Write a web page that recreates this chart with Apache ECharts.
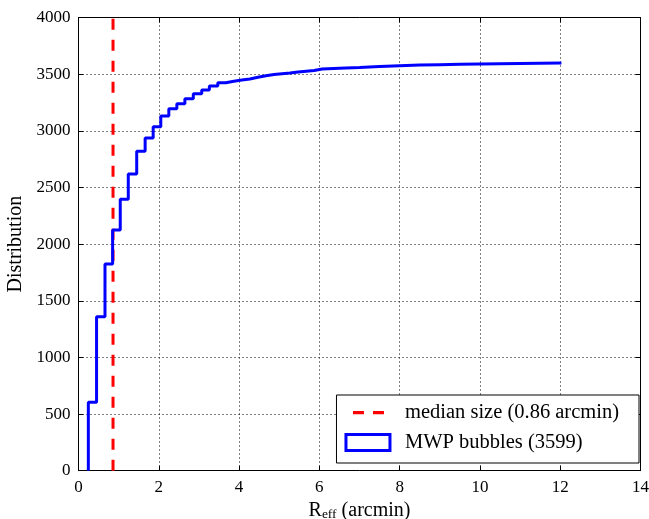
<!DOCTYPE html>
<html>
<head>
<meta charset="utf-8">
<script src="https://cdn.jsdelivr.net/npm/echarts@6/dist/echarts.min.js"></script>
<style>
    html, body { margin: 0; padding: 0; background: #fff; }
    #chart { width: 649px; height: 519px; }
</style>
</head>
<body>
<div id="chart"></div>
<script>
    // bin left edges (arcmin) and cumulative count after each edge
    var binEdges = [0.245, 0.45, 0.66, 0.85, 1.04, 1.24, 1.45, 1.66, 1.86, 2.05,
        2.25, 2.45, 2.65, 2.86, 3.07, 3.26, 3.47, 3.67, 3.87, 4.07,
        4.27, 4.47, 4.67, 4.87, 5.07, 5.27, 5.47, 5.67, 5.87, 6.07,
        6.5, 7.0, 7.5, 8.0, 8.5, 9.0, 9.5, 10.0, 10.5, 11.0, 11.5, 12.03];
    var binCounts = [604, 1359, 1824, 2124, 2395, 2619, 2819, 2936, 3036, 3131,
        3195, 3239, 3283, 3327, 3360, 3395, 3425, 3437, 3448, 3458,
        3472, 3485, 3496, 3503, 3510, 3518, 3525, 3532, 3545, 3553,
        3558, 3567, 3574, 3580, 3584, 3587, 3590, 3592, 3594, 3596, 3598, 3599];
    var medianSize = 0.86;
    var xTicks = { min: 0, max: 14, interval: 2 };
    var yTicks = { min: 0, max: 4000, interval: 500 };

    var font = 'Liberation Serif';

    var stepData = [[binEdges[0], 0]];
    for (var i = 0; i < binEdges.length; i++) {
        stepData.push([binEdges[i], binCounts[i]]);
    }

    function frameAxis(pos, ticks, extra) {
        var ax = {
            type: 'value',
            position: pos,
            min: ticks.min,
            max: ticks.max,
            interval: ticks.interval,
            axisLine: { show: true, onZero: false, lineStyle: { color: '#000', width: 1 } },
            axisTick: { show: true, inside: true, length: 5, lineStyle: { color: '#000', width: 1 } },
            axisLabel: { show: false },
            splitLine: { show: false }
        };
        return Object.assign(ax, extra || {});
    }

    var myChart = echarts.init(document.getElementById('chart'));
    var option = {
        animation: false,
        backgroundColor: '#fff',
        grid: { left: 78.5, right: 8.5, top: 17.5, bottom: 48.3, containLabel: false, outerBoundsMode: 'none' },
        legend: {
            orient: 'vertical',
            right: 10,
            top: 395,
            padding: [7, 20, 10, 8],
            itemWidth: 44,
            itemHeight: 16,
            itemGap: 9,
            backgroundColor: '#fff',
            borderColor: '#000',
            borderWidth: 1,
            borderRadius: 0,
            textStyle: { fontFamily: font, fontSize: 20.5, lineHeight: 20, color: '#000', padding: [0, 0, 0, 10] },
            data: [
                {
                    name: 'median size (0.86 arcmin)',
                    icon: 'path://M0,0 M7,6.5h11v3.2h-11z M27,6.5h11v3.2h-11z M44,16',
                    itemStyle: { color: '#ff0000', borderWidth: 0 }
                },
                {
                    name: 'MWP bubbles (3599)',
                    icon: 'rect',
                    itemStyle: { color: '#fff', borderColor: '#0000ff', borderWidth: 3 }
                }
            ]
        },
        xAxis: [
            frameAxis('bottom', xTicks, {
                axisLabel: { show: true, color: '#000', fontFamily: font, fontSize: 17, margin: 8 },
                splitLine: { show: true, lineStyle: { color: '#000', width: 1, type: [1, 3] } },
                name: '{r|R}{s|eff}{r| (arcmin)}',
                nameLocation: 'middle',
                nameGap: 24.5,
                nameTextStyle: {
                    color: '#000',
                    rich: {
                        r: { fontFamily: font, fontSize: 20, lineHeight: 22, color: '#000' },
                        s: { fontFamily: font, fontSize: 13.5, color: '#000', padding: [8, 0, 0, 0] }
                    }
                }
            }),
            frameAxis('top', xTicks)
        ],
        yAxis: [
            frameAxis('left', yTicks, {
                axisLabel: {
                    show: true, color: '#000', fontFamily: font, fontSize: 17, margin: 8,
                    formatter: function (v) { return String(v); }
                },
                splitLine: { show: true, lineStyle: { color: '#000', width: 1, type: [1, 3] } },
                name: 'Distribution',
                nameLocation: 'middle',
                nameGap: 51,
                nameTextStyle: { color: '#000', fontFamily: font, fontSize: 20 }
            }),
            frameAxis('right', yTicks)
        ],
        series: [
            {
                name: 'median size (0.86 arcmin)',
                type: 'line',
                xAxisIndex: 0,
                yAxisIndex: 0,
                symbol: 'none',
                data: [[medianSize, 0], [medianSize, 4000]],
                lineStyle: { color: '#ff0000', width: 3, type: [11, 10] },
                itemStyle: { color: '#ff0000' }
            },
            {
                name: 'MWP bubbles (3599)',
                type: 'line',
                xAxisIndex: 0,
                yAxisIndex: 0,
                step: 'end',
                symbol: 'none',
                data: stepData,
                lineStyle: { color: '#0000ff', width: 3 },
                itemStyle: { color: '#0000ff' }
            }
        ]
    };
    myChart.setOption(option);
</script>
</body>
</html>
